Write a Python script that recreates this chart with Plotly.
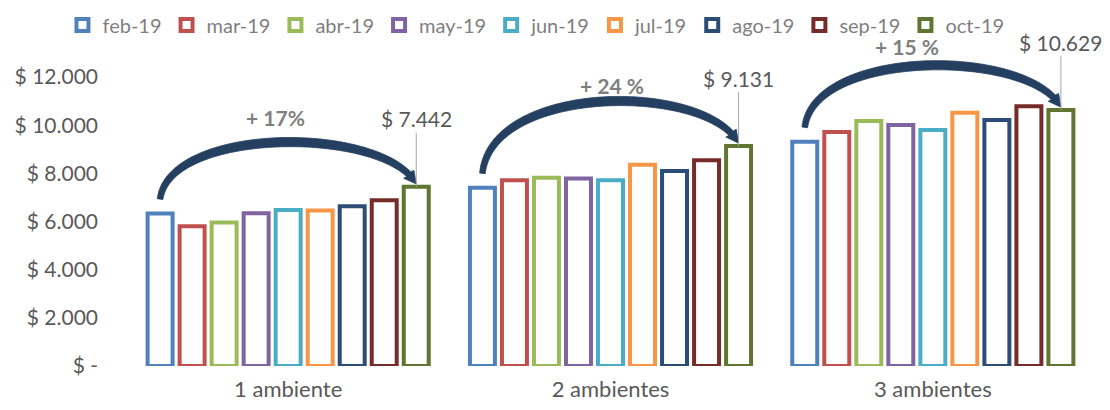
import numpy as np
import plotly.graph_objects as go

categories = ["1 ambiente", "2 ambientes", "3 ambientes"]
months = ["feb-19", "mar-19", "abr-19", "may-19", "jun-19", "jul-19", "ago-19", "sep-19", "oct-19"]
feb = [6330, 7400, 9310]
mar = [5800, 7710, 9715]
abr = [5960, 7815, 10175]
may = [6340, 7790, 10010]
jun = [6480, 7710, 9800]
jul = [6460, 8360, 10520]
ago = [6630, 8100, 10220]
sep = [6880, 8545, 10790]
oct_ = [7442, 9131, 10629]
growth_labels = ["+ 17%", "+ 24 %", "+ 15 %"]
tick_vals = [0, 2000, 4000, 6000, 8000, 10000, 12000]
tick_text = ["$ -", "$ 2.000", "$ 4.000", "$ 6.000", "$ 8.000", "$ 10.000", "$ 12.000"]

series = [feb, mar, abr, may, jun, jul, ago, sep, oct_]
colors = ["#4F81BD", "#C0504D", "#9BBB59", "#8064A2", "#4BACC6", "#F79646",
          "#2C4D75", "#772C2A", "#5F7530"]

# layout placement of the growth labels (offsets from category centre / oct value)
growth_dx = [-0.04, 0.006, -0.08]
growth_dy = [2870, 2500, 2660]

# the page body adds an 8px margin around the figure
W, H = 1094, 394
ML, MR, MT, MB = 119, 8, 32, 36
YMAX = 13538
BARGAP = 0.106
FONT = "Lato"
GRAY = "#7F7F7F"
TXT = "#595959"

xs = list(range(len(categories)))
fig = go.Figure()
for name, vals, col in zip(months, series, colors):
    fig.add_trace(go.Bar(
        x=xs, y=vals, name=name,
        marker=dict(color="white", line=dict(color=col, width=4)),
    ))

# pixel scales for the arrow geometry
Sx = (W - ML - MR) / 3.0
Sy = (H - MT - MB) / YMAX
slot = (1 - BARGAP) / len(series)
off_first = -(len(series) - 1) / 2 * slot
off_last = (len(series) - 1) / 2 * slot

shapes = []
annotations = []
for i in xs:
    x0 = i + off_first
    x3 = i + off_last
    y0 = feb[i] + 600
    y3 = oct_[i] + 120
    peak = oct_[i] + 1850
    K = (8 * peak - y0 - y3) / 6.0
    P = np.array([[x0 * Sx, y0 * Sy],
                  [(x0 + 0.03) * Sx, K * Sy],
                  [(x3 - 0.10) * Sx, K * Sy],
                  [x3 * Sx, y3 * Sy]])
    t = np.linspace(0, 1, 120)
    pts = ((1 - t) ** 3)[:, None] * P[0] + (3 * (1 - t) ** 2 * t)[:, None] * P[1] \
        + (3 * (1 - t) * t ** 2)[:, None] * P[2] + (t ** 3)[:, None] * P[3]
    tip = pts[-1]
    L = 12.0
    d = np.linalg.norm(pts - tip, axis=1)
    keep = d >= L
    body = pts[keep]
    tb = t[keep]
    tang = np.gradient(body, axis=0)
    tang /= np.linalg.norm(tang, axis=1)[:, None]
    nrm = np.stack([-tang[:, 1], tang[:, 0]], axis=1)
    w = 2.8 + 1.8 * np.sin(np.pi * tb)
    left = body + nrm * w[:, None]
    right = body - nrm * w[:, None]
    base = body[-1]
    dirv = (tip - base) / np.linalg.norm(tip - base)
    nv = np.array([-dirv[1], dirv[0]])
    hw = 6.5
    poly = list(left) + [base + nv * hw, tip, base - nv * hw] + list(right[::-1])
    path = "M " + " L ".join(f"{p[0] / Sx:.5f},{p[1] / Sy:.2f}" for p in poly) + " Z"
    shapes.append(dict(type="path", xref="x", yref="y", path=path,
                       fillcolor="#243F60", line=dict(width=0.8, color="#243F60"), layer="above"))

    annotations.append(dict(
        x=x3, y=oct_[i], xref="x", yref="y",
        text=f"$ {oct_[i]:,}".replace(",", "."),
        showarrow=True, arrowhead=0, arrowwidth=1, arrowcolor="#A6A6A6",
        ax=0, ay=-68, font=dict(family=FONT, size=21, color=TXT)))
    annotations.append(dict(
        x=i + growth_dx[i], y=oct_[i] + growth_dy[i], xref="x", yref="y",
        text=f"<b>{growth_labels[i]}</b>", showarrow=False,
        font=dict(family=FONT, size=21, color=GRAY)))

fig.update_layout(
    width=W, height=H,
    margin=dict(l=ML, r=MR, t=MT, b=MB, autoexpand=False),
    plot_bgcolor="white", paper_bgcolor="white",
    barmode="group", bargap=BARGAP, bargroupgap=0.22,
    font=dict(family=FONT, size=21, color=TXT),
    xaxis=dict(range=[-0.5, 2.5], tickvals=xs, ticktext=categories,
               showgrid=False, zeroline=False, showline=False, ticks="",
               automargin=False, ticklabelstandoff=8,
               tickfont=dict(family=FONT, size=22, color=TXT)),
    yaxis=dict(range=[0, YMAX], tickvals=tick_vals, ticktext=tick_text,
               showgrid=False, zeroline=False, showline=False, ticks="",
               automargin=False, ticklabelstandoff=28,
               tickfont=dict(family=FONT, size=21, color=TXT)),
    legend=dict(orientation="h", xref="container", yref="container",
                x=0.4826, xanchor="center", y=0.957, yanchor="middle",
                font=dict(family=FONT, size=20, color=GRAY), itemwidth=30,
                traceorder="normal", bgcolor="rgba(0,0,0,0)"),
    shapes=shapes, annotations=annotations,
)

fig.write_html("out.html")
